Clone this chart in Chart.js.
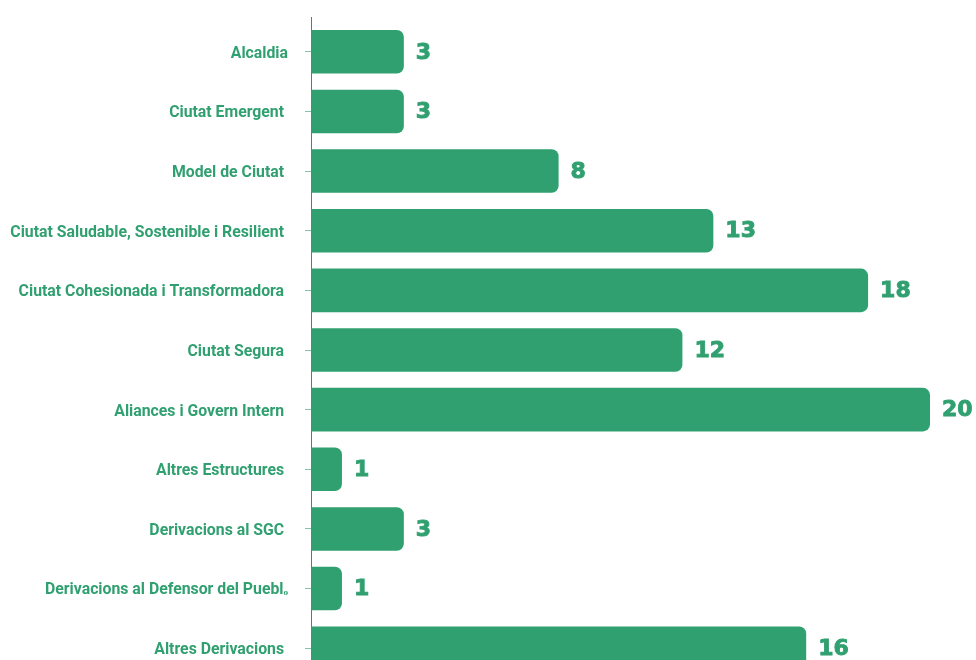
<!DOCTYPE html>
<html>
<head>
<meta charset="utf-8">
<script src="https://cdn.jsdelivr.net/npm/chart.js@4"></script>
<style>
  html, body { margin: 0; padding: 0; background: #fff; overflow: hidden; }
  canvas { display: block; }
</style>
</head>
<body>
<canvas id="myChart" width="976" height="678"></canvas>
<script>
const categories = [
    'Alcaldia',
    'Ciutat Emergent ',
    'Model de Ciutat ',
    'Ciutat Saludable, Sostenible i Resilient ',
    'Ciutat Cohesionada i Transformadora ',
    'Ciutat Segura ',
    'Aliances i Govern Intern ',
    'Altres Estructures ',
    'Derivacions al SGC ',
    'Derivacions al Defensor del Pueblₒ',
    'Altres Derivacions '
]
const counts = [3, 3, 8, 13, 18, 12, 20, 1, 3, 1, 16]

const green = 'rgb(49, 160, 112)'

// draws the count to the right of each bar, plus the axis line stub above the plot
const valueLabels = {
    id: 'valueLabels',
    afterDatasetsDraw(chart) {
        const ctx = chart.ctx
        const meta = chart.getDatasetMeta(0)
        const area = chart.chartArea
        ctx.save()
        ctx.strokeStyle = 'rgb(60, 140, 105)'
        ctx.lineWidth = 1
        ctx.beginPath()
        ctx.moveTo(area.left + 0.5, 17)
        ctx.lineTo(area.left + 0.5, area.top)
        ctx.stroke()

        ctx.fillStyle = green
        ctx.strokeStyle = green
        ctx.lineWidth = 0.9
        ctx.font = 'bold 22px "DejaVu Sans"'
        ctx.textAlign = 'left'
        ctx.textBaseline = 'middle'
        meta.data.forEach((bar, i) => {
            ctx.fillText(String(counts[i]), bar.x + 12, bar.y + 1)
            ctx.strokeText(String(counts[i]), bar.x + 12, bar.y + 1)
        })
        ctx.restore()
    }
}

const config = {
    type: 'bar',
    data: {
        labels: categories,
        datasets: [{
            data: counts,
            backgroundColor: green,
            borderWidth: 0,
            borderRadius: 7,
            borderSkipped: 'start',
            barPercentage: 0.73,
            categoryPercentage: 1
        }]
    },
    options: {
        indexAxis: 'y',
        responsive: false,
        animation: false,
        layout: {
            padding: { top: 22, right: 46, bottom: 0, left: 0 }
        },
        plugins: {
            legend: { display: false },
            tooltip: { enabled: false }
        },
        scales: {
            x: {
                display: false,
                min: 0,
                max: 20
            },
            y: {
                afterFit(scale) {
                    // fixed label column; no extra vertical room for the tick labels
                    scale.width = 311
                    scale.paddingTop = 0
                    scale.paddingBottom = 0
                },
                border: { display: true, color: 'rgb(60, 140, 105)', width: 1 },
                grid: {
                    offset: false,
                    drawOnChartArea: false,
                    drawTicks: true,
                    tickLength: 6,
                    color: 'rgba(49, 160, 112, 0.6)'
                },
                ticks: {
                    padding: 17,
                    labelOffset: 2,
                    color: green,
                    font: { family: 'Roboto', weight: 'bold', size: 15.8 }
                }
            }
        }
    },
    plugins: [valueLabels]
}

let myChart = new Chart(document.getElementById('myChart'), config)
</script>
</body>
</html>
